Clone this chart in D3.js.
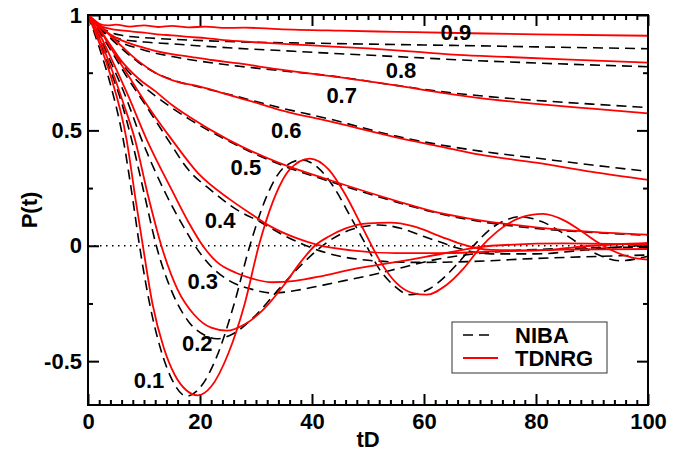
<!DOCTYPE html>
<html>
<head>
<meta charset="utf-8">
<script src="https://d3js.org/d3.v7.min.js"></script>
<style>
	body { margin: 0; background: #fff; }
	text { font-family: "Liberation Sans", Arial, sans-serif; font-weight: bold; }
</style>
</head>
<body>
<div id="chart"></div>
<script>
// DATA ------------------------------------------------------------
// each series: [tD, P(t)]
var niba01 = [[0,1],[2,0.86],[4,0.70],[6.3,0.459],[8,0.2],[9.2,0],[11,-0.25],[13,-0.45],[15,-0.58],[17.6,-0.652],[20,-0.615],[23,-0.48],[26,-0.26],[28.9,0],[32,0.22],[35,0.34],[38.2,0.372],[41,0.34],[44,0.25],[47,0.12],[49.5,0.01],[52,-0.1],[54.5,-0.17],[57.5,-0.212],[61,-0.186],[64,-0.128],[66,-0.077],[69,0.004],[72,0.075],[74.5,0.11],[77,0.126],[81,0.105],[85,0.052],[90,-0.026],[95,-0.065],[100,-0.045]];
var tdnrg01 = [[0,1],[2,0.88],[4,0.74],[6.9,0.459],[8.5,0.2],[9.8,0],[11.5,-0.25],[13.5,-0.44],[15.5,-0.56],[17.5,-0.625],[19.6,-0.648],[22,-0.61],[25,-0.47],[28,-0.25],[30.5,0],[33,0.19],[36,0.33],[39.6,0.378],[43,0.33],[46,0.22],[49,0.08],[52,-0.06],[55,-0.16],[58,-0.205],[60.5,-0.212],[64,-0.17],[67,-0.1],[70,-0.01],[73,0.06],[77,0.12],[81.3,0.138],[85,0.11],[88,0.065],[91,0.015],[94,-0.025],[97,-0.05],[100,-0.06]];
var niba02 = [[0,1],[2,0.89],[4,0.76],[6,0.62],[7.8,0.459],[10,0.23],[12.2,0],[15,-0.2],[18,-0.33],[21,-0.39],[23,-0.403],[26,-0.38],[30,-0.3],[34,-0.19],[38,-0.085],[43,0.02],[47,0.07],[52,0.09],[56,0.075],[60,0.04],[63,0.015],[66,-0.01],[72,-0.035],[80,-0.035],[90,-0.015],[100,0.004]];
var tdnrg02 = [[0,1],[2,0.9],[4,0.78],[6,0.64],[8.4,0.459],[10.7,0.22],[13.1,0],[16,-0.19],[19,-0.3],[22,-0.355],[24.8,-0.368],[28,-0.34],[31.3,-0.277],[35,-0.17],[38,-0.07],[40.5,0],[43,0.04],[46,0.075],[50,0.097],[54,0.1],[58,0.085],[63,0.04],[66,0.013],[72,-0.018],[80,-0.02],[90,0.0],[100,0.012]];
var niba03 = [[0,1],[2,0.91],[4,0.8],[6.5,0.66],[9.6,0.459],[14,0.22],[17,0.085],[19.1,0],[22,-0.09],[25,-0.148],[29.5,-0.19],[33,-0.205],[38,-0.19],[44,-0.16],[50,-0.13],[56,-0.095],[62,-0.06],[72,-0.028],[85,-0.012],[100,-0.006]];
var tdnrg03 = [[0,1],[2,0.92],[4,0.82],[7,0.66],[10.5,0.459],[15,0.24],[18,0.1],[20.5,0],[23,-0.07],[26.5,-0.118],[29,-0.14],[33,-0.158],[37,-0.152],[42,-0.13],[48,-0.098],[55.7,-0.068],[62,-0.04],[66,-0.022],[72,0.0],[85,0.01],[100,0.005]];
var niba04 = [[0,1],[2,0.93],[4,0.85],[7,0.73],[10,0.62],[14.3,0.459],[17.9,0.33],[22,0.24],[26,0.165],[31,0.1],[35,0.045],[39,0],[44,-0.04],[50,-0.063],[58,-0.072],[66,-0.07],[80,-0.055],[100,-0.04]];
var tdnrg04 = [[0,1],[2,0.94],[4,0.86],[7,0.745],[10,0.63],[15,0.459],[19.6,0.316],[25.4,0.2],[29,0.14],[32.5,0.085],[37,0.035],[41,0.004],[47,-0.02],[55,-0.032],[63,-0.032],[72,-0.025],[85,-0.017],[100,-0.014]];
var niba05 = [[0,1],[2,0.93],[4,0.86],[6,0.79],[9,0.71],[12,0.65],[18,0.55],[25,0.455],[34,0.355],[43,0.28],[55,0.19],[63,0.138],[70,0.105],[80,0.075],[90,0.058],[100,0.045]];
var tdnrg05 = [[0,1],[2,0.94],[4,0.87],[6,0.8],[9,0.725],[12,0.67],[15,0.61],[18,0.56],[25,0.46],[34,0.36],[43,0.286],[55,0.195],[63,0.141],[70,0.11],[80,0.08],[90,0.06],[100,0.048]];
var niba06 = [[0,1],[2,0.95],[4,0.9],[6,0.855],[9,0.795],[12,0.75],[16,0.712],[20,0.687],[25,0.657],[34,0.6],[43,0.55],[55,0.475],[63,0.437],[70,0.41],[80,0.38],[90,0.35],[100,0.322]];
var tdnrg06 = [[0,1],[2,0.96],[4,0.91],[6,0.865],[9,0.8],[12,0.75],[16,0.71],[20,0.69],[25,0.655],[30,0.62],[34,0.59],[43,0.54],[55,0.47],[63,0.43],[70,0.395],[80,0.36],[90,0.32],[100,0.286]];
var niba07 = [[0,1],[2,0.94],[4,0.905],[6,0.88],[9,0.855],[12,0.835],[15,0.82],[20,0.8],[27,0.778],[35,0.757],[43,0.737],[55,0.695],[63,0.668],[70,0.65],[80,0.63],[90,0.614],[100,0.599]];
var tdnrg07 = [[0,1],[2,0.95],[4,0.915],[6,0.89],[9,0.865],[12,0.845],[15,0.83],[18,0.82],[22,0.805],[27,0.79],[33,0.768],[43,0.736],[55,0.695],[63,0.664],[70,0.64],[80,0.615],[90,0.594],[100,0.574]];
var niba08 = [[0,1],[2,0.94],[4,0.91],[6,0.895],[10,0.883],[15,0.875],[20,0.866],[25,0.858],[35,0.845],[45,0.832],[55,0.82],[66,0.806],[80,0.792],[100,0.776]];
var tdnrg08 = [[0,1],[2,0.955],[4,0.94],[6,0.933],[8,0.928],[10,0.924],[13,0.915],[15,0.912],[18,0.905],[21,0.9],[25,0.89],[31,0.88],[40,0.868],[50,0.855],[60,0.838],[66,0.827],[75,0.818],[85,0.808],[100,0.794]];
var niba09 = [[0,1],[2,0.95],[4,0.925],[6,0.912],[10,0.902],[15,0.895],[25,0.885],[40,0.878],[55,0.872],[66,0.868],[80,0.862],[100,0.854]];
var tdnrg09 = [[0,1],[1,0.975],[2,0.962],[3.5,0.955],[5,0.958],[7.5,0.95],[10,0.955],[12.5,0.948],[15,0.953],[18,0.946],[21,0.95],[24,0.944],[28,0.945],[34,0.939],[45,0.932],[55,0.927],[66,0.922],[80,0.916],[100,0.91]];

var nibaSeries = [niba01, niba02, niba03, niba04, niba05, niba06, niba07, niba08, niba09];
var tdnrgSeries = [tdnrg01, tdnrg02, tdnrg03, tdnrg04, tdnrg05, tdnrg06, tdnrg07, tdnrg08, tdnrg09];

// curve labels (alpha) and where they sit, in data units
var alphaLabels = ["0.1", "0.2", "0.3", "0.4", "0.5", "0.6", "0.7", "0.8", "0.9"];
var alphaLabelT = [10.9, 19.5, 20.5, 23.6, 28.2, 35.4, 45.3, 55.9, 65.7];
var alphaLabelP = [-0.58, -0.42, -0.155, 0.113, 0.342, 0.502, 0.654, 0.762, 0.926];

var xMajor = [0, 20, 40, 60, 80, 100];
var yMajor = [-0.5, 0, 0.5, 1];
var yMinor = [-0.25, 0.25, 0.75];
var legendNames = ["NIBA", "TDNRG"];

// SVG VARIABLES ETC ------------------------------------------------------------
var W = 685, H = 455;
var margin = {top: 15, right: 37, bottom: 50, left: 88};
var plotW = W - margin.left - margin.right,
    plotH = H - margin.top - margin.bottom;

var colors = {
	'niba': '#000000',
	'tdnrg': '#ff0000',
	'frame': '#000000'
};

var svg = d3.select("#chart")
	.append("svg")
	.attr("width", W)
	.attr("height", H);

var g = svg.append("g")
	.attr("transform", "translate(" + margin.left + "," + margin.top + ")");

var x = d3.scaleLinear().domain([0, 100]).range([0, plotW]);
var y = d3.scaleLinear().domain([-0.69, 1]).range([plotH, 0]);

var xMinor = d3.range(0, 101, 2).filter(function(d) { return d % 20 !== 0; });

// AXES ------------------------------------------------------------
function tickStyle(sel) {
	sel.select(".domain").remove();
	sel.selectAll("line").attr("stroke", colors.frame).attr("stroke-width", 2);
	sel.selectAll("text").attr("font-size", "22px").attr("fill", "#000");
}

g.append("g")
	.attr("transform", "translate(0," + plotH + ")")
	.call(d3.axisBottom(x).tickValues(xMajor).tickSize(-11).tickPadding(8).tickFormat(function(d) { return String(d); }))
	.call(tickStyle);
g.append("g")
	.attr("transform", "translate(0," + plotH + ")")
	.call(d3.axisBottom(x).tickValues(xMinor).tickSize(-5).tickFormat(""))
	.call(tickStyle);
g.append("g")
	.call(d3.axisTop(x).tickValues(xMajor).tickSize(-11).tickFormat(""))
	.call(tickStyle);
g.append("g")
	.call(d3.axisTop(x).tickValues(xMinor).tickSize(-5).tickFormat(""))
	.call(tickStyle);

g.append("g")
	.call(d3.axisLeft(y).tickValues(yMajor).tickSize(-11).tickPadding(6).tickFormat(function(d) { return String(d); }))
	.call(tickStyle);
g.append("g")
	.call(d3.axisLeft(y).tickValues(yMinor).tickSize(-5).tickFormat(""))
	.call(tickStyle);
g.append("g")
	.attr("transform", "translate(" + plotW + ",0)")
	.call(d3.axisRight(y).tickValues(yMajor).tickSize(-11).tickFormat(""))
	.call(tickStyle);
g.append("g")
	.attr("transform", "translate(" + plotW + ",0)")
	.call(d3.axisRight(y).tickValues(yMinor).tickSize(-5).tickFormat(""))
	.call(tickStyle);

// zero line, dotted
g.append("line")
	.attr("x1", 0).attr("x2", plotW)
	.attr("y1", y(0)).attr("y2", y(0))
	.attr("stroke", "#000")
	.attr("stroke-width", 1.5)
	.attr("stroke-dasharray", "1.5,4.5");

// CURVES ------------------------------------------------------------
var line = d3.line()
	.x(function(d) { return x(d[0]); })
	.y(function(d) { return y(d[1]); })
	.curve(d3.curveMonotoneX);

g.selectAll("path.niba")
	.data(nibaSeries)
	.enter()
	.append("path")
	.attr("class", "niba")
	.attr("d", line)
	.attr("fill", "none")
	.attr("stroke", colors.niba)
	.attr("stroke-width", 1.6)
	.attr("stroke-dasharray", "10,6");

g.selectAll("path.tdnrg")
	.data(tdnrgSeries)
	.enter()
	.append("path")
	.attr("class", "tdnrg")
	.attr("d", line)
	.attr("fill", "none")
	.attr("stroke", colors.tdnrg)
	.attr("stroke-width", 1.8);

// alpha labels
g.selectAll("text.alpha")
	.data(alphaLabels)
	.enter()
	.append("text")
	.attr("class", "alpha")
	.attr("x", function(d, i) { return x(alphaLabelT[i]); })
	.attr("y", function(d, i) { return y(alphaLabelP[i]); })
	.attr("dy", "0.36em")
	.attr("text-anchor", "middle")
	.attr("font-size", "22px")
	.text(function(d) { return d; });

// frame
g.append("rect")
	.attr("width", plotW)
	.attr("height", plotH)
	.attr("fill", "none")
	.attr("stroke", colors.frame)
	.attr("stroke-width", 2);

// LEGEND ------------------------------------------------------------
var legend = svg.append("g").attr("transform", "translate(452,322)");
legend.append("rect")
	.attr("width", 155).attr("height", 51)
	.attr("fill", "#fff")
	.attr("stroke", "#333")
	.attr("stroke-width", 1);
legend.selectAll("line.key")
	.data(legendNames)
	.enter()
	.append("line")
	.attr("class", "key")
	.attr("x1", 11).attr("x2", function(d, i) { return i === 0 ? 42 : 46; })
	.attr("y1", function(d, i) { return 13 + i * 23; })
	.attr("y2", function(d, i) { return 13 + i * 23; })
	.attr("stroke", function(d, i) { return i === 0 ? colors.niba : colors.tdnrg; })
	.attr("stroke-width", function(d, i) { return i === 0 ? 1.6 : 1.8; })
	.attr("stroke-dasharray", function(d, i) { return i === 0 ? "10,6" : null; });
legend.selectAll("text.key")
	.data(legendNames)
	.enter()
	.append("text")
	.attr("class", "key")
	.attr("x", 63)
	.attr("y", function(d, i) { return 13 + i * 23; })
	.attr("dy", "0.36em")
	.attr("font-size", "22px")
	.text(function(d) { return d; });

// AXIS TITLES ------------------------------------------------------------
svg.append("text")
	.attr("transform", "translate(37," + (margin.top + plotH / 2) + ") rotate(-90)")
	.attr("text-anchor", "middle")
	.attr("font-size", "22px")
	.text("P(t)");

svg.append("text")
	.attr("x", margin.left + plotW / 2)
	.attr("y", 447)
	.attr("text-anchor", "middle")
	.attr("font-size", "22px")
	.text("tD");
</script>
</body>
</html>
